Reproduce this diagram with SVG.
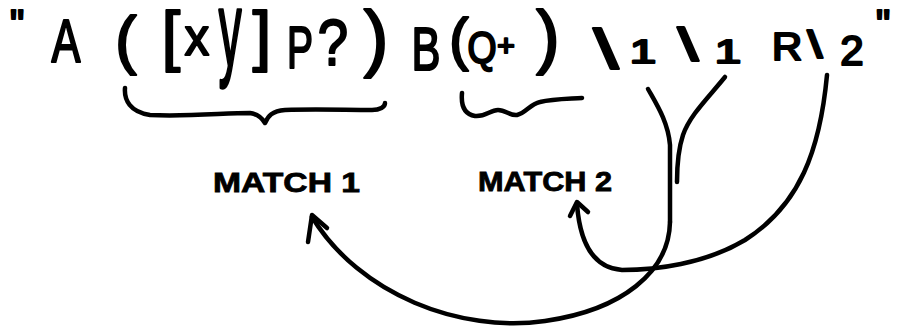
<svg xmlns="http://www.w3.org/2000/svg" width="911" height="334" viewBox="0 0 911 334">
  <style>
    .ink { fill: none; stroke: #000; stroke-width: 4.5; stroke-linecap: round; stroke-linejoin: round; }
    .expr text { font-family: "Liberation Sans", Arial, sans-serif; fill: #000; stroke: #000; stroke-width: 2.2; stroke-linejoin: round; text-anchor: middle; }
    .label { font-family: "Liberation Sans", Arial, sans-serif; font-weight: bold; font-size: 27px; fill: #000; stroke: #000; stroke-width: 0.8; }
  </style>
  <rect width="911" height="334" fill="#fff"/>

  <!-- the pattern string, one glyph per text so each can be squeezed like pen writing -->
  <g id="pattern" class="expr">
    <text font-size="40" transform="translate(17,38)">"</text>
    <text font-size="62" transform="translate(66,62) scale(0.7,1)">A</text>
    <text font-size="64" transform="translate(126,62)">(</text>
    <text font-size="66" transform="translate(171,58)">[</text>
    <text font-size="54" transform="translate(197,55) scale(0.9,1)">x</text>
    <text font-size="70" transform="translate(230,66) scale(0.65,1.5)">y</text>
    <text font-size="66" transform="translate(262,58)">]</text>
    <text font-size="60" transform="translate(300,68) scale(0.65,1)">P</text>
    <text font-size="64" transform="translate(333,65) scale(0.85,1)">?</text>
    <text font-size="74" transform="translate(376,63)">)</text>
    <text font-size="62" transform="translate(426,70) scale(0.7,1)">B</text>
    <text font-size="58" transform="translate(459,59)">(</text>
    <text font-size="44" transform="translate(482,63) scale(0.85,1)">Q</text>
    <text font-size="30" transform="translate(506,56)">+</text>
    <text font-size="70" transform="translate(548,60)">)</text>
    <text font-size="56" transform="translate(606,68) scale(1.6,1)">\</text>
    <text font-size="34" transform="translate(643,63) scale(1.4,1)">1</text>
    <text font-size="46" transform="translate(688,61) scale(1.6,1)">\</text>
    <text font-size="34" transform="translate(728,63) scale(1.4,1)">1</text>
    <text font-size="38" transform="translate(787,60) scale(1.1,1)">R</text>
    <text font-size="38" transform="translate(815,58) scale(1.4,1)">\</text>
    <text font-size="42" transform="translate(852,65)">2</text>
    <text font-size="40" transform="translate(883,38)">"</text>
  </g>

  <!-- brace under the first group -->
  <g id="brace-group1">
    <path class="ink" d="M125,88 C124,100 130,112 150,115 C185,117 225,113 250,113 C258,114 262,118 265,123 C268,116 272,111 285,110 C315,109 345,110 372,110 C380,110 385,107 385,103"/>
  </g>

  <!-- brace under the second group -->
  <g id="brace-group2">
    <path class="ink" d="M462,93 C461,104 463,114 475,116 C486,117 490,110 498,110 C506,110 510,116 517,115 C526,113 530,104 540,102 C552,99 565,99 582,98"/>
  </g>

  <g id="match1">
    <text class="label" x="213" y="192" textLength="147" lengthAdjust="spacingAndGlyphs">MATCH 1</text>
  </g>

  <g id="match2">
    <text class="label" x="478" y="191" textLength="134" lengthAdjust="spacingAndGlyphs">MATCH 2</text>
  </g>

  <!-- back-references and arrows to their groups -->
  <g id="connectors">
    <!-- first \1, joining the stem -->
    <path class="ink" d="M648,89 C657,105 668,122 670,145 L670,222"/>
    <!-- second \1 -->
    <path class="ink" d="M725,77 C708,98 690,115 683,135 C678,150 677,165 677,182"/>
    <!-- stem down and round to MATCH 1 -->
    <path class="ink" d="M670,222 C669,272 622,310 545,321 C460,333 360,295 312,217"/>
    <path class="ink" d="M308,242 L312,215 L327,228"/>
    <!-- \2 round to MATCH 2 -->
    <path class="ink" d="M827,75 C820,150 800,205 745,240 C705,264 655,270 622,270 C595,268 580,245 577,204"/>
    <path class="ink" d="M570,216 L577,202 L588,212"/>
  </g>
</svg>
